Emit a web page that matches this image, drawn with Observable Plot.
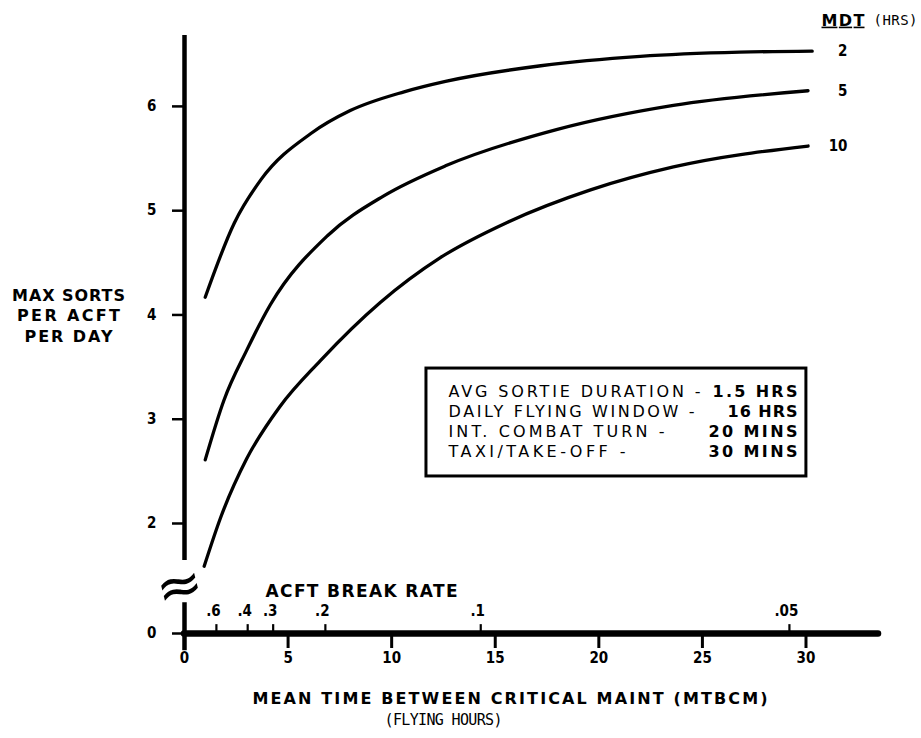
<!DOCTYPE html>
<html><head><meta charset="utf-8">
<script src="https://cdn.jsdelivr.net/npm/d3@7"></script>
<script src="https://cdn.jsdelivr.net/npm/@observablehq/plot@0.6"></script>
<style>
body{margin:0;background:#fff;}
#chart svg{display:block;}
</style>
</head><body><div id="chart"></div>
<script>
// ---- data ----
const mdtLabels = ["2", "5", "10"];
const mdt2X = [1.0, 2.4, 3.7, 6.1, 8.0, 10.6, 12.6, 17.2, 22.0, 26.8, 30.3];
const mdt2Y = [4.17, 4.88, 5.30, 5.74, 5.96, 6.14, 6.24, 6.39, 6.48, 6.52, 6.53];
const mdt5X = [1.0, 1.9, 3.0, 4.15, 6.9, 9.6, 12.6, 18.0, 23.6, 30.1];
const mdt5Y = [2.61, 3.18, 3.66, 4.10, 4.76, 5.14, 5.43, 5.78, 6.01, 6.15];
const mdt10X = [0.95, 1.75, 3.0, 4.6, 6.55, 9.45, 12.35, 15.6, 19.6, 23.6, 30.1];
const mdt10Y = [1.59, 2.06, 2.62, 3.12, 3.56, 4.12, 4.55, 4.89, 5.20, 5.42, 5.62];

const xTicks = [0, 5, 10, 15, 20, 25, 30];
const yTicks = [2, 3, 4, 5, 6];
const breakRatePos = [1.54, 3.05, 4.28, 6.8, 14.3, 29.2];
const breakRateLabels = [".6", ".4", ".3", ".2", ".1", ".05"];
const boxLeftLines = ["AVG SORTIE DURATION -", "DAILY FLYING WINDOW -", "INT. COMBAT TURN -", "TAXI/TAKE-OFF -"];
const boxRightLines = ["1.5 HRS", "16 HRS", "20 MINS", "30 MINS"];
const yTitleLines = ["MAX SORTS", "PER ACFT", "PER DAY"];
const xTitle = "MEAN TIME BETWEEN CRITICAL MAINT (MTBCM)";
const xSubTitle = "(FLYING HOURS)";

// broken axis: the "0" of the y axis sits at this position on the scale
const yZeroPos = 0.945;
const xMax = 33.5, yMax = 6.68;
const mdtLabelX = 32.0;
const box = {x1: 11.68, x2: 30.02, y1: 2.451, y2: 3.486};

// text widths (px) measured on the reference, used to fit the lettering
const textWidths = {
  "AVG SORTIE DURATION -": 252, "DAILY FLYING WINDOW -": 246, "INT. COMBAT TURN -": 216, "TAXI/TAKE-OFF -": 177,
  "1.5 HRS": 85, "16 HRS": 70, "20 MINS": 89, "30 MINS": 89,
  "MAX SORTS": 113, "PER ACFT": 103, "PER DAY": 88,
  "MEAN TIME BETWEEN CRITICAL MAINT (MTBCM)": 515, "(FLYING HOURS)": 118,
  "ACFT BREAK RATE": 192, "MDT": 43, "(HRS)": 44
};

// ---- build table ----
const seriesX = [mdt2X, mdt5X, mdt10X];
const seriesY = [mdt2Y, mdt5Y, mdt10Y];
const rows = [];
seriesX.forEach((xs, i) => xs.forEach((x, j) => rows.push({mdt: mdtLabels[i], x, y: seriesY[i][j]})));
const lastPts = mdtLabels.map((m, i) => ({mdt: m, y: seriesY[i][seriesY[i].length - 1]}));
const breakRows = breakRatePos.map((p, i) => ({x: p, label: breakRateLabels[i]}));

const FC = "DejaVu Sans Condensed, DejaVu Sans, sans-serif";
const FW = "DejaVu Sans, sans-serif";
const FM = "DejaVu Sans Mono, monospace";

const chart = Plot.plot({
  width: 921,
  height: 738,
  marginLeft: 184,
  marginRight: 43,
  marginTop: 35,
  marginBottom: 105,
  style: {fontFamily: FC, background: "#fff", color: "#000", overflow: "visible"},
  x: {domain: [0, xMax]},
  y: {domain: [yZeroPos, yMax]},
  marks: [
    // axes ticks + labels
    Plot.axisY({ticks: [yZeroPos, ...yTicks], tickFormat: d => d === yZeroPos ? "0" : String(d),
      tickSize: 12, tickPadding: 16, fontSize: 15, fontWeight: "bold", strokeWidth: 2.5, label: null}),
    Plot.axisX({ticks: xTicks, tickSize: 15, tickPadding: 4, fontSize: 15, fontWeight: "bold", strokeWidth: 3, label: null}),
    // y axis line (broken)
    Plot.ruleX([0], {y1: 1.645, y2: yMax, strokeWidth: 4.5}),
    Plot.ruleX([0], {y1: 0.78, y2: 1.24, strokeWidth: 4.5}),
    // x axis line
    Plot.ruleY([yZeroPos], {x1: 0, x2: xMax, strokeWidth: 6.5, strokeLinecap: "round"}),
    // break symbol
    Plot.text(["≈"], {frameAnchor: "bottom-left", dx: -5, dy: -47, fontSize: 56, rotate: -14, lineAnchor: "middle", textAnchor: "middle", fontFamily: FW}),
    // acft break rate ticks
    Plot.ruleX(breakRows, {x: "x", y1: yZeroPos, y2: yZeroPos + 0.085, strokeWidth: 2.2}),
    Plot.text(breakRows, {x: "x", y: yZeroPos, text: "label", dy: -22, dx: -3, fontSize: 15, fontWeight: "bold", style: "letter-spacing:3px"}),
    Plot.text(["ACFT BREAK RATE"], {frameAnchor: "bottom-left", dx: 81, dy: -42, textAnchor: "start", lineAnchor: "middle", fontSize: 17, fontWeight: "bold", fontFamily: FW}),
    // curves
    Plot.line(rows, {x: "x", y: "y", z: "mdt", curve: "monotone-x", stroke: "#000", strokeWidth: 3.3}),
    Plot.text(lastPts, {x: mdtLabelX, y: "y", text: "mdt", textAnchor: "end", fontSize: 15, fontWeight: "bold"}),
    // MDT header
    Plot.text(["MDT"], {frameAnchor: "top-right", dx: -57, dy: -15, textAnchor: "start", lineAnchor: "middle", fontSize: 16, fontWeight: "bold", fontFamily: FW}),
    Plot.text(["(HRS)"], {frameAnchor: "top-right", dx: -5, dy: -15, textAnchor: "start", lineAnchor: "middle", fontSize: 14, fontFamily: FM}),
    // y title
    ...yTitleLines.map((t, i) => Plot.text([t], {frameAnchor: "left", dx: -116, dy: -39 + i * 20.5, textAnchor: "middle", lineAnchor: "middle", fontSize: 16, fontWeight: "bold", fontFamily: FW})),
    // x title
    Plot.text([xTitle], {frameAnchor: "bottom-left", dx: 68, dy: 65, textAnchor: "start", lineAnchor: "middle", fontSize: 16, fontWeight: "bold", fontFamily: FW}),
    Plot.text([xSubTitle], {frameAnchor: "bottom-left", dx: 200, dy: 87, textAnchor: "start", lineAnchor: "middle", fontSize: 15, fontFamily: FM}),
    // info box
    Plot.rect([box], {x1: "x1", x2: "x2", y1: "y1", y2: "y2", fill: "#fff", stroke: "#000", strokeWidth: 3}),
    ...boxLeftLines.map((t, i) => Plot.text([t], {frameAnchor: "top-left", dx: 264, dy: 356.5 + i * 20, textAnchor: "start", lineAnchor: "middle", fontSize: 16, fontFamily: FW})),
    ...boxRightLines.map((t, i) => Plot.text([t], {frameAnchor: "top-left", dx: 613, dy: 356.5 + i * 20, textAnchor: "end", lineAnchor: "middle", fontSize: 16, fontWeight: "bold", fontFamily: FW}))
  ]
});
document.getElementById("chart").appendChild(chart);
d3.select(chart).selectAll("text").each(function() {
  const t = this.textContent;
  if (textWidths[t] !== undefined && this.childElementCount === 0) {
    d3.select(this).attr("textLength", textWidths[t]).attr("lengthAdjust", "spacing");
  }
  if (t === "MDT") d3.select(this).attr("text-decoration", "underline");
});
</script>
</body></html>
